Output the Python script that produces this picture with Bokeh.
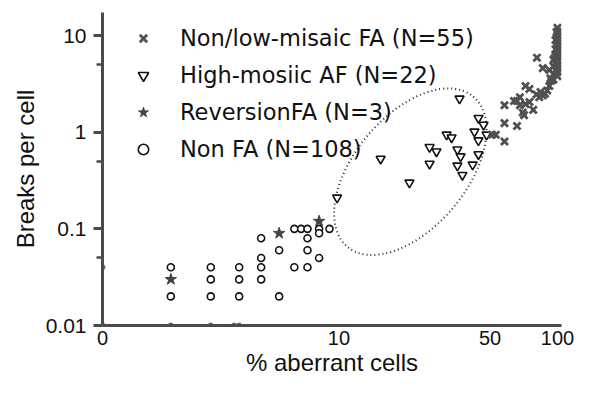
import numpy as np
from bokeh.plotting import figure
from bokeh.models import FixedTicker, Legend, LegendItem
from bokeh.embed import file_html
from bokeh.resources import INLINE

# ---------------- data ----------------
# Non FA (open circles): % aberrant cells, breaks per cell
nonfa_pct = [1, 1, 2, 2, 2, 3, 3, 3, 4, 4, 4, 4, 5, 5, 6, 6, 6.5, 7, 7, 7, 7, 8, 8, 8, 9]
nonfa_brk = [0.04, 0.02, 0.04, 0.03, 0.02, 0.04, 0.03, 0.02, 0.08, 0.05, 0.04, 0.03,
             0.06, 0.02, 0.10, 0.04, 0.10, 0.10, 0.08, 0.06, 0.04, 0.10, 0.09, 0.05, 0.10]
# ReversionFA (stars)
rev_pct = [1, 5, 8]
rev_brk = [0.03, 0.09, 0.12]
# High-mosaic AF (inverted triangles)
high_pct = [36.4, 15.8, 21.5, 9.8, 26.6, 28.6, 26.6, 31.8, 33.5, 35.6, 36.8, 35.6,
            37.5, 41.7, 44.3, 44.3, 46.7, 42.5, 44.3, 48.2]
high_brk = [2.22, 0.53, 0.30, 0.21, 0.70, 0.63, 0.47, 0.94, 0.88, 0.66, 0.56, 0.45,
            0.36, 0.46, 0.59, 1.40, 1.19, 1.01, 0.82, 0.94]
# Non/low-mosaic FA (crosses)
low_pct = [100, 100, 100, 100, 100, 100, 100, 100, 100, 100, 100, 100, 100, 100, 100,
           98, 98, 98, 98, 98, 96, 96, 96, 96, 94, 92, 92, 90, 88, 86, 86, 83, 81, 80.6,
           78, 75, 75, 72, 72, 71, 68, 68, 66, 66, 64, 58, 58, 53, 51, 58, 97, 99, 93, 84, 70]
low_brk = [12.0, 11.0, 10.2, 9.5, 8.8, 8.2, 7.6, 7.0, 6.5, 6.0, 5.5, 5.0, 4.6, 4.2, 3.8,
           9.0, 7.2, 6.2, 5.2, 4.4, 5.6, 4.8, 4.0, 3.5, 3.4, 4.4, 3.0, 2.7, 2.5, 2.4, 4.6,
           2.3, 5.9, 2.45, 1.7, 2.8, 2.05, 3.0, 1.95, 1.5, 1.9, 2.3, 2.1, 1.16, 2.1, 1.9,
           1.24, 0.94, 0.94, 0.80, 5.8, 10.8, 3.6, 2.6, 1.6]
# values sitting on the axes (zero breaks / zero % aberrant)
zero_brk_pct = [0, 1, 2, 2.8, 3]
zero_pct_brk = [0.04]

x_tick_pct = [0, 10, 50, 100]
x_tick_labels = ["0", "10", "50", "100"]
y_ticks = [0.01, 0.1, 1, 10]
y_tick_labels = ["0.01", "0.1", "1", "10"]
y_minor_ticks = [0.05, 0.5, 5]

legend_labels = ["Non/low-misaic FA (N=55)", "High-mosiic AF (N=22)",
                 "ReversionFA (N=3)", "Non FA (N=108)"]

# dotted ellipse annotation (centre in data units, size in screen px)
ell_pct, ell_brk = 21.7, 0.39
ell_w, ell_h, ell_angle = 196, 112, 50


def xp(v):
    # axis is log10(% + 1)
    return [a + 1 for a in v]


AX = "#4a4a4a"
INK = "#111111"

p = figure(width=586, height=382, x_axis_type="log", y_axis_type="log",
           x_range=(1, 105.2), y_range=(0.01, 17.3),
           output_backend="svg", toolbar_location=None,
           min_border_left=102, min_border_right=25, min_border_top=12,
           min_border_bottom=57)
p.xgrid.visible = False
p.ygrid.visible = False
p.outline_line_color = None
p.background_fill_color = "white"
p.border_fill_color = "white"

# ellipse
p.ellipse(x=[ell_pct + 1], y=[ell_brk], width=ell_w, height=ell_h,
          angle=np.deg2rad(ell_angle), width_units="screen", height_units="screen",
          fill_color=None, line_color="#2a2a2a", line_width=2, line_dash="1 3")

# axis points
p.scatter(xp(zero_brk_pct), [y_ticks[0]] * len(zero_brk_pct), size=5,
          color="#666666")
p.scatter(xp([0] * len(zero_pct_brk)), zero_pct_brk, size=5, color="#666666")

r_circ = p.scatter(xp(nonfa_pct), nonfa_brk, marker="circle", size=7,
                   fill_color="white", line_color=INK, line_width=1.6)
r_star = p.scatter(xp(rev_pct), rev_brk, marker="star", size=12,
                   fill_color="#444444", line_color="#444444", line_width=1)
r_tri = p.scatter(xp(high_pct), high_brk, marker="inverted_triangle", size=9,
                  fill_color="white", line_color=INK, line_width=1.6)
r_x = p.scatter(xp(low_pct), low_brk, marker="x", size=10,
                line_color="#505050", line_width=2.8)

# axes
xa = p.xaxis[0]
xa.ticker = FixedTicker(ticks=xp(x_tick_pct))
xa.major_label_overrides = dict(zip(xp(x_tick_pct), x_tick_labels))
xa.axis_line_width = 3
xa.axis_line_color = AX
xa.major_tick_line_color = None
xa.major_tick_out = 0
xa.major_tick_in = 0
xa.minor_tick_line_color = None
xa.major_label_text_font = "Liberation Sans"
xa.major_label_text_font_size = "20px"
xa.major_label_text_color = INK
xa.major_label_standoff = 5
xa.axis_label = "% aberrant cells"
xa.axis_label_text_font = "Liberation Sans"
xa.axis_label_text_font_size = "24px"
xa.axis_label_text_font_style = "normal"
xa.axis_label_text_color = INK
xa.axis_label_standoff = 1

ya = p.yaxis[0]
ya.ticker = FixedTicker(ticks=y_ticks, minor_ticks=y_minor_ticks)
ya.major_label_overrides = dict(zip(y_ticks, y_tick_labels))
ya.axis_line_width = 3
ya.axis_line_color = AX
ya.major_tick_line_color = AX
ya.major_tick_line_width = 3
ya.major_tick_out = 9
ya.major_tick_in = 0
ya.minor_tick_line_color = AX
ya.minor_tick_line_width = 2.5
ya.minor_tick_out = 6
ya.minor_tick_in = 0
ya.major_label_text_font = "Liberation Sans"
ya.major_label_text_font_size = "21px"
ya.major_label_text_color = INK
ya.major_label_standoff = 7
ya.axis_label = "Breaks per cell"
ya.axis_label_text_font = "Liberation Sans"
ya.axis_label_text_font_size = "24px"
ya.axis_label_text_font_style = "normal"
ya.axis_label_text_color = INK
ya.axis_label_standoff = 4

legend = Legend(items=[LegendItem(label=legend_labels[0], renderers=[r_x]),
                       LegendItem(label=legend_labels[1], renderers=[r_tri]),
                       LegendItem(label=legend_labels[2], renderers=[r_star]),
                       LegendItem(label=legend_labels[3], renderers=[r_circ])],
                location=(13, 163), glyph_width=56, glyph_height=26, label_height=26,
                spacing=11, label_standoff=9, padding=0, margin=0,
                border_line_color=None, background_fill_alpha=0,
                label_text_font="DejaVu Sans", label_text_font_size="22.5px",
                label_text_color=INK)
p.add_layout(legend)

open("out.html", "w").write(file_html(p, INLINE))
